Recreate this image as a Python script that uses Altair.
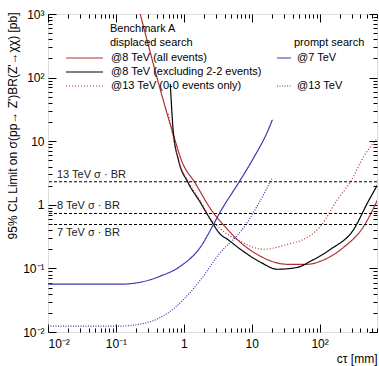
import altair as alt
import pandas as pd

# ---------------- data ----------------
red_all_x = [0.228, 0.676, 0.95, 1.45, 2.6, 4.39, 6.82, 13.5, 33.7, 66.6, 103, 226, 446, 718]
red_all_y = [1000, 14.5, 4.63, 2.25, 0.80, 0.411, 0.257, 0.155, 0.116, 0.116, 0.130, 0.215, 0.458, 1.22]

black_x = [0.632, 0.70, 0.83, 1.15, 1.75, 2.46, 3.46, 4.39, 6.82, 13.5, 24.0, 47.3, 73.7, 145, 318, 511, 718]
black_y = [80, 14.1, 5.15, 2.25, 1.09, 0.59, 0.343, 0.287, 0.200, 0.125, 0.097, 0.104, 0.130, 0.200, 0.411, 1.09, 2.09]

red13_x = [0.59, 0.68, 0.85, 1.2, 1.75, 2.46, 3.46, 6.82, 14.9, 33.7, 58.0, 103, 184, 287, 446, 718]
red13_y = [27, 13, 4.8, 2.2, 1.15, 0.62, 0.42, 0.267, 0.200, 0.239, 0.287, 0.458, 1.22, 2.33, 5.74, 11.4]

blue7_x = [0.01, 0.116, 0.228, 0.45, 0.888, 1.75, 2.74, 3.34, 6.6, 10.6, 17.6, 20.2]
blue7_y = [0.0565, 0.0565, 0.0605, 0.0755, 0.108, 0.215, 0.493, 0.73, 2.33, 5.4, 15.2, 21.8]

blue13_x = [0.01, 0.116, 0.228, 0.406, 0.70, 1.25, 1.94, 3.46, 5.8, 8.0, 12.0, 20.2]
blue13_y = [0.0124, 0.0124, 0.0133, 0.016, 0.023, 0.0424, 0.0755, 0.179, 0.31, 0.47, 0.95, 2.69]

series_names = ["@8 TeV (all events)", "@8 TeV (excluding 2-2 events)", "@13 TeV (0-0 events only)",
                "@7 TeV", "@13 TeV prompt"]
series_colors = ["#b03030", "#000000", "#b03030", "#3a3aaa", "#3a3aaa"]
series_dash = [[1, 0], [1, 0], [1, 2], [1, 0], [1, 1.5]]

xsec_values = [2.3, 0.73, 0.49]
xsec_labels = ["13 TeV σ · BR", "8 TeV σ · BR", "7 TeV σ · BR"]

x_major = [0.01, 0.1, 1, 10, 100]
x_major_labels = ["10⁻²", "10⁻¹", "1", "10", "10²"]
x_minor = [m * d for d in [0.01, 0.1, 1, 10, 100] for m in range(2, 10) if m * d <= 700]
y_major = [0.01, 0.1, 1, 10, 100, 1000]
y_major_labels = ["10⁻²", "10⁻¹", "1", "10", "10²", "10³"]
y_minor = [m * d for d in [0.01, 0.1, 1, 10, 100] for m in range(2, 10)]

# ---------------- build tables ----------------
rows = []
for name, xs_, ys_ in zip(series_names,
                          [red_all_x, black_x, red13_x, blue7_x, blue13_x],
                          [red_all_y, black_y, red13_y, blue7_y, blue13_y]):
    for a, b in zip(xs_, ys_):
        rows.append({"series": name, "x": a, "y": b})
curves = pd.DataFrame(rows)
hl = pd.DataFrame({"v": xsec_values, "label": xsec_labels})


def label_expr(vals, labels):
    expr = "'" + labels[-1] + "'"
    for i in range(len(vals) - 2, -1, -1):
        mid = (vals[i] * vals[i + 1]) ** 0.5
        expr = f"datum.value < {mid} ? '{labels[i]}' : ({expr})"
    return expr


W, H = 329, 318
FONT = "Liberation Sans"
xs = alt.Scale(type="log", domain=[0.01, 700], nice=False)
ys = alt.Scale(type="log", domain=[0.01, 1000], nice=False)


def ax(orient, values, size, labels=False, **kw):
    return alt.Axis(orient=orient, values=values, tickSize=size, offset=-size, domain=False,
                    grid=False, labels=labels, tickColor="black", tickWidth=1, **kw)


x_main = alt.X("x:Q", scale=xs, title="cτ [mm]",
               axis=ax("bottom", x_major, 8, labels=True, labelExpr=label_expr(x_major, x_major_labels),
                       labelPadding=6, labelFontSize=12, labelFont=FONT, labelColor="black",
                       titleFont=FONT, titleFontSize=12, titleFontWeight="normal", titleColor="black",
                       titleAlign="right", titleX=W, titleY=41, titleBaseline="bottom"))
y_main = alt.Y("y:Q", scale=ys, title="95% CL Limit on σ(pp→ Z')BR(Z'→χχ) [pb]",
               axis=ax("left", y_major, 8, labels=True, labelExpr=label_expr(y_major, y_major_labels),
                       labelPadding=4, labelFontSize=12, labelFont=FONT, labelColor="black",
                       titleFont=FONT, titleFontSize=12, titleFontWeight="normal", titleColor="black",
                       titleAngle=270, titleAlign="right", titleX=-44, titleY=-2,
                       titleBaseline="middle"))

lines = alt.Chart(curves).mark_line(strokeWidth=1.2, interpolate="monotone", clip=True).encode(
    x=x_main, y=y_main,
    color=alt.Color("series:N", scale=alt.Scale(domain=series_names, range=series_colors), legend=None),
    strokeDash=alt.StrokeDash("series:N", scale=alt.Scale(domain=series_names, range=series_dash),
                              legend=None),
    detail="series:N",
)


def axis_layer(xo, xv, xsize, yo, yv, ysize):
    return alt.Chart(curves).mark_point(opacity=0).encode(
        x=alt.X("x:Q", scale=xs, title=None, axis=ax(xo, xv, xsize)),
        y=alt.Y("y:Q", scale=ys, title=None, axis=ax(yo, yv, ysize)),
    )


ax2 = axis_layer("bottom", x_minor, 4, "left", y_minor, 4)
ax3 = axis_layer("top", x_major, 8, "right", y_major, 8)
ax4 = axis_layer("top", x_minor, 4, "right", y_minor, 4)

hlines = alt.Chart(hl).mark_rule(color="black", strokeDash=[3, 2], strokeWidth=1).encode(
    y=alt.Y("v:Q", scale=ys, axis=None)
)
above = hl.iloc[:2]
below = hl.iloc[2:]
hl_text_a = alt.Chart(above).mark_text(align="left", baseline="bottom", dy=-2, fontSize=11,
                                       font=FONT, color="#222").encode(
    x=alt.value(9), y=alt.Y("v:Q", scale=ys, axis=None), text="label:N")
hl_text_b = alt.Chart(below).mark_text(align="left", baseline="top", dy=2, fontSize=11,
                                       font=FONT, color="#222").encode(
    x=alt.value(9), y=alt.Y("v:Q", scale=ys, axis=None), text="label:N")

# ---------------- legend ----------------
one = alt.Data(values=[{}])
leg = []


def txt(s, x, y):
    return alt.Chart(one).mark_text(text=s, align="left", baseline="middle", fontSize=11,
                                    font=FONT, color="black").encode(x=alt.value(x), y=alt.value(y))


def sample(x1, x2, y, color, dash):
    return alt.Chart(one).mark_rule(color=color, strokeDash=dash, strokeWidth=1.2).encode(
        x=alt.value(x1), x2=alt.value(x2), y=alt.value(y))


leg.append(txt("Benchmark A", 62, 15))
leg.append(txt("displaced search", 62, 29))
for i, yy in zip(range(3), [44, 58, 72]):
    leg.append(sample(18, 55, yy, series_colors[i], series_dash[i]))
    leg.append(txt(series_names[i], 63, yy))
leg.append(txt("prompt search", 246, 29))
leg.append(sample(229, 243, 44, series_colors[3], series_dash[3]))
leg.append(txt("@7 TeV", 249, 44))
leg.append(sample(229, 243, 72, series_colors[4], series_dash[4]))
leg.append(txt("@13 TeV", 249, 72))

chart = alt.layer(lines, ax2, ax3, ax4, hlines, hl_text_a, hl_text_b, *leg).resolve_axis(
    x="independent", y="independent"
).properties(
    width=W, height=H, autosize=alt.AutoSizeParams(type="none"),
    padding={"left": 48, "top": 14, "right": 2, "bottom": 34},
).configure_view(stroke="black", strokeWidth=1).configure(font=FONT, background="white")

chart.save("out.html", embed_options={"renderer": "svg", "actions": False})
